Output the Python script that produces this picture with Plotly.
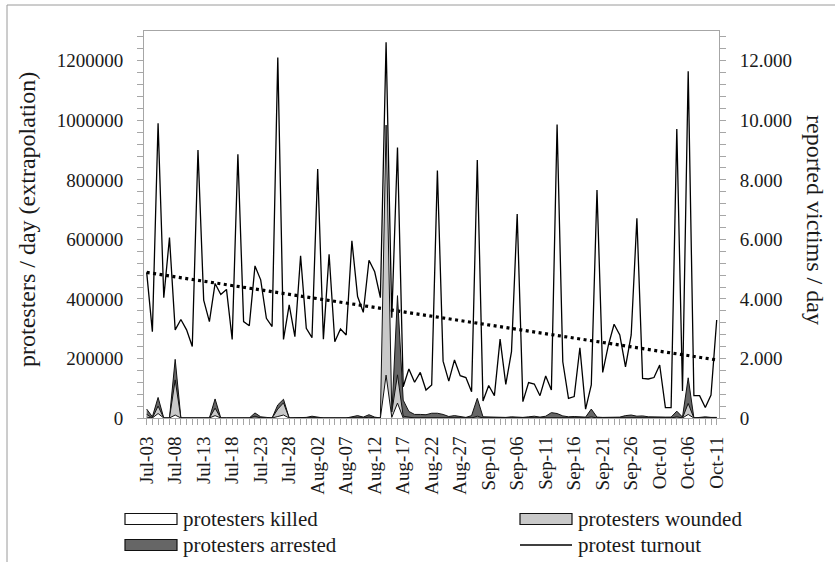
import plotly.graph_objects as go
import pandas as pd

# ---------------- data ----------------
start_date = "2013-07-03"
end_date = "2013-10-11"
dates = pd.date_range(start_date, end_date, freq="D")

turnout = [
    489000, 290000, 990000, 404000, 606000, 296000, 331000, 296000, 240000, 900000,
    396000, 324000, 452000, 415000, 432000, 264000, 886000, 324000, 310000, 511000,
    464000, 335000, 307000, 1211000, 264000, 380000, 273000, 545000, 301000, 270000,
    836000, 265000, 550000, 256000, 299000, 279000, 595000, 408000, 355000, 530000,
    491000, 404000, 1262000, 337000, 909000, 105000, 165000, 120000, 153000, 94000,
    111000, 831000, 191000, 124000, 195000, 142000, 136000, 88000, 867000, 57000,
    109000, 75000, 265000, 113000, 223000, 685000, 55000, 119000, 114000, 75000,
    141000, 94000, 986000, 189000, 66000, 72000, 236000, 30000, 111000, 766000,
    153000, 245000, 315000, 279000, 172000, 279000, 671000, 133000, 131000, 136000,
    178000, 35000, 35000, 971000, 91000, 1165000, 75000, 75000, 35000, 77000,
    329000,
]

arrested = [
    300, 40, 690, 0, 0, 1970, 0, 0, 0, 0,
    0, 0, 640, 0, 0, 0, 0, 0, 0, 170,
    40, 20, 0, 440, 630, 0, 0, 0, 20, 60,
    20, 0, 0, 0, 0, 0, 40, 80, 30, 110,
    30, 0, 300, 100, 4110, 600, 220, 120, 120, 110,
    160, 160, 120, 50, 80, 60, 20, 80, 660, 40,
    30, 20, 30, 20, 40, 30, 20, 40, 60, 30,
    60, 180, 150, 70, 40, 50, 30, 30, 300, 30,
    20, 20, 20, 30, 80, 100, 60, 70, 40, 30,
    30, 30, 30, 230, 30, 1350, 0, 20, 40, 20,
    20,
]

wounded = [
    120, 0, 400, 0, 0, 1280, 0, 0, 0, 0,
    0, 0, 330, 0, 0, 0, 0, 0, 0, 60,
    0, 0, 0, 300, 510, 0, 0, 0, 0, 20,
    0, 0, 0, 0, 0, 0, 0, 20, 0, 30,
    0, 0, 9840, 200, 1450, 60, 20, 0, 0, 0,
    0, 0, 0, 0, 0, 0, 0, 0, 60, 0,
    0, 0, 0, 0, 0, 0, 0, 0, 0, 0,
    0, 20, 20, 0, 0, 0, 0, 0, 40, 0,
    0, 0, 0, 0, 0, 20, 0, 0, 0, 0,
    0, 0, 0, 40, 0, 490, 0, 0, 0, 0,
    0,
]

killed = [
    30, 0, 150, 0, 0, 100, 0, 0, 0, 0,
    0, 0, 80, 0, 0, 0, 0, 0, 0, 0,
    0, 0, 0, 50, 100, 0, 0, 0, 0, 0,
    0, 0, 0, 0, 0, 0, 0, 0, 0, 0,
    0, 0, 1440, 20, 500, 0, 0, 0, 0, 0,
    0, 0, 0, 0, 0, 0, 0, 0, 20, 0,
    0, 0, 0, 0, 0, 0, 0, 0, 0, 0,
    0, 0, 0, 0, 0, 0, 0, 0, 0, 0,
    0, 0, 0, 0, 0, 0, 0, 0, 0, 0,
    0, 0, 0, 20, 0, 120, 0, 0, 0, 0,
    0,
]

# linear trend of turnout (end points)
trend_dates = [start_date, end_date]
trend_values = [489000, 195000]

series_names = ["protesters killed", "protesters wounded",
                "protesters arrested", "protest turnout"]
left_title = "protesters / day (extrapolation)"
right_title = "reported victims / day"

# ---------------- figure ----------------
FONT = "Liberation Serif"
AXIS_GRAY = "#a6a6a6"
TXT = "#1a1a1a"
C_KILLED, C_WOUNDED, C_ARRESTED = "#ffffff", "#c9c9c9", "#666666"

W, H = 835, 562
ML, MR, MT, MB = 144, 116, 31, 144
PW, PH = W - ML - MR, H - MT - MB


def px_x(p):
    return (p - ML) / PW


def px_y(p):
    return (H - MB - p) / PH


fig = go.Figure()

# areas (secondary axis): arrested behind, wounded, killed in front
fig.add_trace(go.Scatter(
    x=dates, y=arrested, name=series_names[2], yaxis="y2",
    mode="lines", fill="tozeroy", fillcolor=C_ARRESTED,
    line=dict(color="#111111", width=1)))
fig.add_trace(go.Scatter(
    x=dates, y=wounded, name=series_names[1], yaxis="y2",
    mode="lines", fill="tozeroy", fillcolor=C_WOUNDED,
    line=dict(color="#111111", width=1)))
fig.add_trace(go.Scatter(
    x=dates, y=killed, name=series_names[0], yaxis="y2",
    mode="lines", fill="tozeroy", fillcolor=C_KILLED,
    line=dict(color="#111111", width=1)))

# turnout line (primary axis)
fig.add_trace(go.Scatter(
    x=dates, y=turnout, name=series_names[3], yaxis="y",
    mode="lines", line=dict(color="#000000", width=1.3)))

# trend line
fig.add_trace(go.Scatter(
    x=trend_dates, y=trend_values, yaxis="y", name="linear trend",
    mode="lines", line=dict(color="#000000", width=3.2, dash="3px,3.5px")))

x0 = pd.Timestamp(start_date) - pd.Timedelta(hours=11.3)
x1 = pd.Timestamp(end_date) + pd.Timedelta(hours=9.7)

fig.update_layout(
    width=W, height=H,
    margin=dict(l=ML, r=MR, t=MT, b=MB, autoexpand=False),
    paper_bgcolor="white", plot_bgcolor="white",
    font=dict(family=FONT, size=19, color=TXT),
    separators=",.",
    showlegend=False,
    xaxis=dict(
        type="date", range=[x0, x1],
        tick0=start_date, dtick=5 * 86400000, tickformat="%b-%d",
        tickangle=-90, ticks="outside", ticklen=6, tickcolor=AXIS_GRAY,
        ticklabelstandoff=4,
        minor=dict(dtick=86400000, tick0=start_date, ticks="outside",
                   ticklen=6, tickcolor=AXIS_GRAY),
        showline=True, linecolor=AXIS_GRAY, linewidth=1, mirror=True,
        showgrid=False, zeroline=False,
        tickfont=dict(family=FONT, size=19, color=TXT),
    ),
    yaxis=dict(
        range=[0, 1300000], dtick=200000, tickformat="d",
        ticks="outside", ticklen=6, tickcolor=AXIS_GRAY,
        ticklabelstandoff=10,
        minor=dict(dtick=40000, ticks="outside", ticklen=6, tickcolor=AXIS_GRAY),
        showline=True, linecolor=AXIS_GRAY, linewidth=1,
        showgrid=False, zeroline=False,
        tickfont=dict(family=FONT, size=19, color=TXT),
    ),
    yaxis2=dict(
        overlaying="y", side="right",
        range=[0, 13000], dtick=2000, tickformat=",d",
        ticks="outside", ticklen=6, tickcolor=AXIS_GRAY,
        ticklabelstandoff=10,
        minor=dict(dtick=400, ticks="outside", ticklen=6, tickcolor=AXIS_GRAY),
        showline=True, linecolor=AXIS_GRAY, linewidth=1,
        showgrid=False, zeroline=False,
        tickfont=dict(family=FONT, size=19, color=TXT),
    ),
)

# axis titles
fig.add_annotation(text=left_title, xref="paper", yref="paper",
                   x=px_x(27), y=px_y(220), textangle=-90, showarrow=False,
                   xanchor="center", yanchor="middle",
                   font=dict(family=FONT, size=24, color=TXT))
fig.add_annotation(text=right_title, xref="paper", yref="paper",
                   x=px_x(815), y=px_y(220), textangle=90, showarrow=False,
                   xanchor="center", yanchor="middle",
                   font=dict(family=FONT, size=24, color=TXT))

# legend (two columns, two rows)
legend_items = [
    (series_names[0], "box", C_KILLED, 125, 519),
    (series_names[1], "box", C_WOUNDED, 520, 519),
    (series_names[2], "box", C_ARRESTED, 125, 545),
    (series_names[3], "line", None, 520, 545),
]
for name, kind, color, lx, ly in legend_items:
    if kind == "box":
        fig.add_shape(type="rect", xref="paper", yref="paper",
                      x0=px_x(lx), x1=px_x(lx + 52),
                      y0=px_y(ly + 5.5), y1=px_y(ly - 5.5),
                      line=dict(color="#111111", width=1.2), fillcolor=color)
    else:
        fig.add_shape(type="line", xref="paper", yref="paper",
                      x0=px_x(lx), x1=px_x(lx + 52), y0=px_y(ly), y1=px_y(ly),
                      line=dict(color="#000000", width=1.3))
    fig.add_annotation(text=name, xref="paper", yref="paper",
                       x=px_x(lx + 56), y=px_y(ly), showarrow=False,
                       xanchor="left", yanchor="middle",
                       font=dict(family=FONT, size=21, color=TXT))

# outer chart border (partly outside the visible window, like the reference)
fig.add_shape(type="line", xref="paper", yref="paper",
              x0=px_x(7), x1=px_x(900), y0=px_y(5), y1=px_y(5),
              line=dict(color="#9a9a9a", width=1), layer="below")
fig.add_shape(type="line", xref="paper", yref="paper",
              x0=px_x(7), x1=px_x(7), y0=px_y(5), y1=px_y(700),
              line=dict(color="#9a9a9a", width=1), layer="below")

fig.write_html("out.html")
